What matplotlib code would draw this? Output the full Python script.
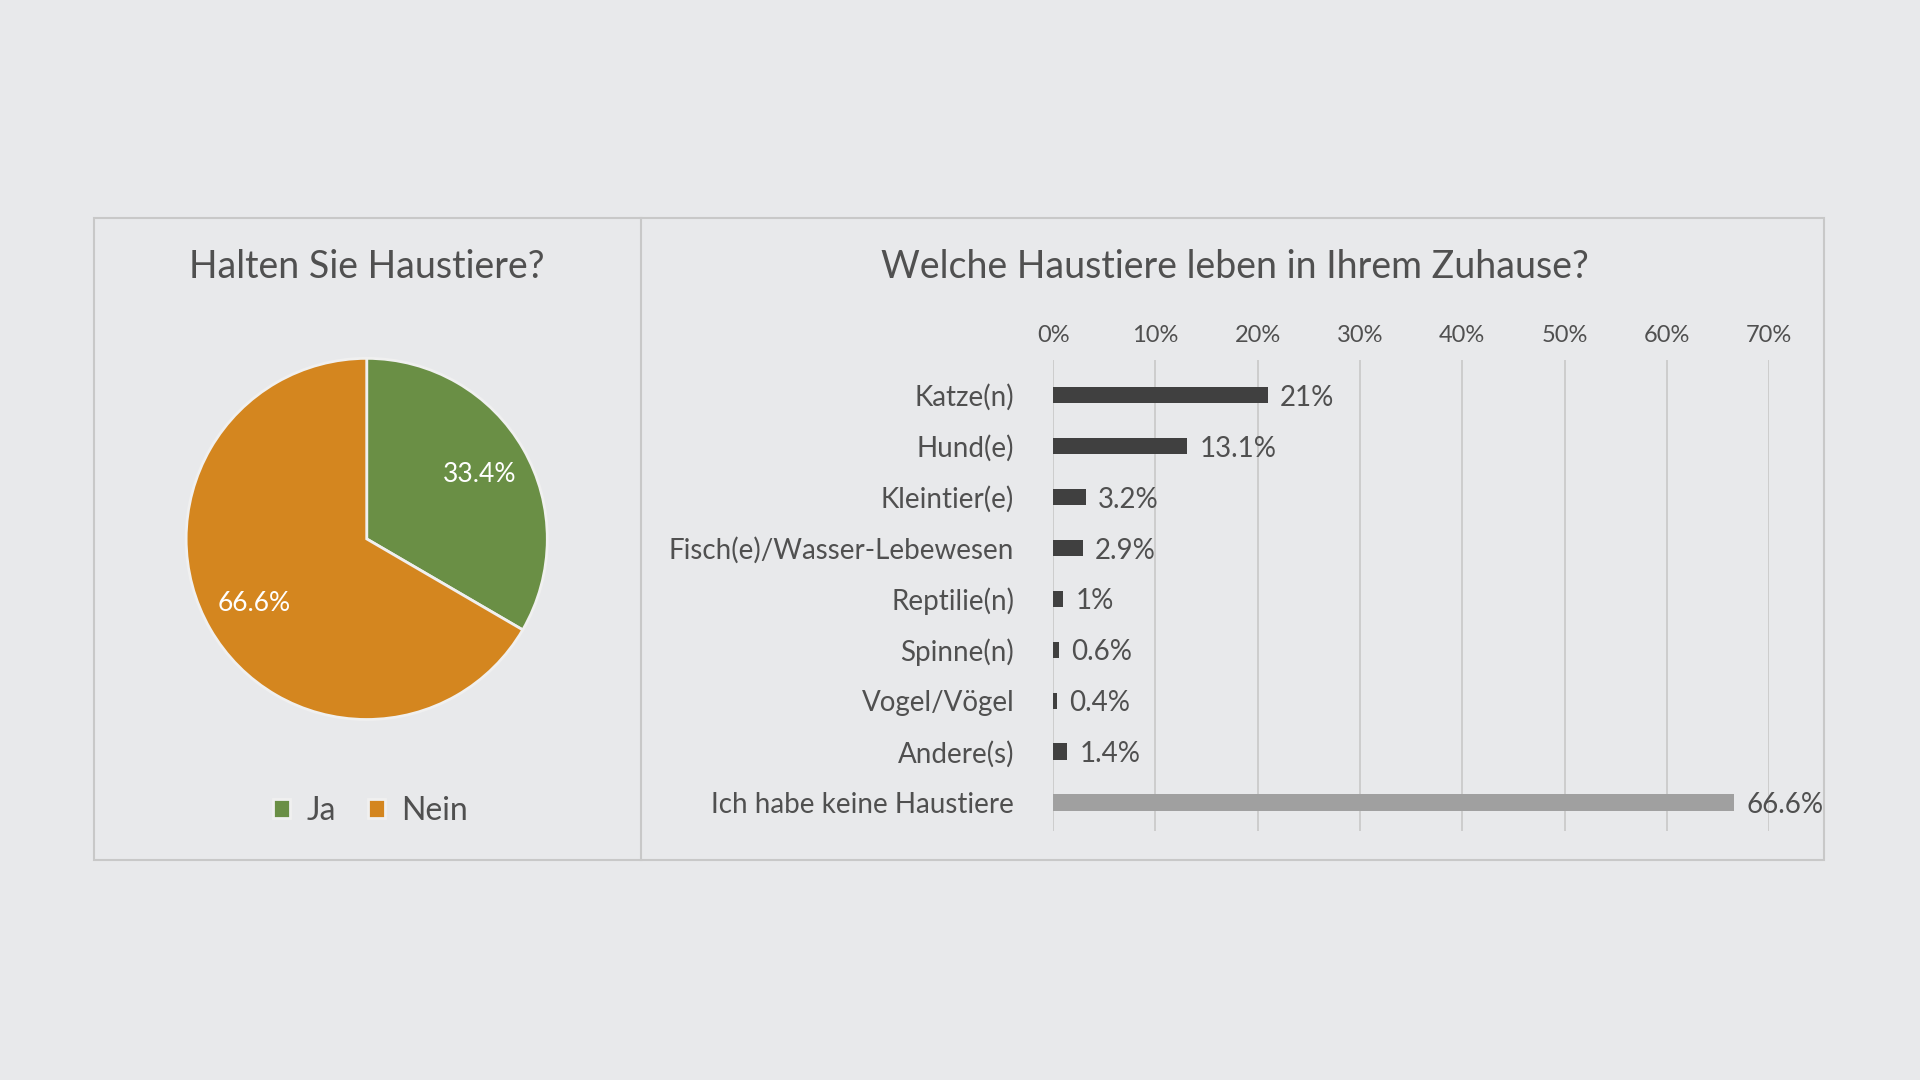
import matplotlib.pyplot as plt
from matplotlib.patches import Rectangle

plt.rcParams["font.family"] = "Lato"

# data
pie_labels = ["Ja", "Nein"]
pie_values = [33.4, 66.6]
pie_colors = ["#6a8f45", "#d4861f"]

categories = ["Katze(n)", "Hund(e)", "Kleintier(e)", "Fisch(e)/Wasser-Lebewesen",
              "Reptilie(n)", "Spinne(n)", "Vogel/Vögel", "Andere(s)",
              "Ich habe keine Haustiere"]
shares = [21, 13.1, 3.2, 2.9, 1, 0.6, 0.4, 1.4, 66.6]
share_labels = ["21%", "13.1%", "3.2%", "2.9%", "1%", "0.6%", "0.4%", "1.4%", "66.6%"]
bar_colors = ["#404040"] * 8 + ["#a0a0a0"]
x_ticks = [0, 10, 20, 30, 40, 50, 60, 70]

bg = "#e8e9eb"
txt = "#505050"
fig = plt.figure(figsize=(19.2, 10.8), dpi=100, facecolor=bg)

# panel frames
fig.patches.append(Rectangle((0.049, 0.204), 0.901, 0.594, transform=fig.transFigure,
                             fill=False, edgecolor="#c8c8c8", lw=1.5))
fig.lines.append(plt.Line2D([0.334, 0.334], [0.204, 0.798], transform=fig.transFigure,
                            color="#c8c8c8", lw=1.5))

# ---- pie ----
fig.text(0.191, 0.753, "Halten Sie Haustiere?", ha="center", va="center", fontsize=27, color=txt)
axp = fig.add_axes([0.067, 0.292, 0.248, 0.418])
wedges, _, autotexts = axp.pie(pie_values, colors=pie_colors, startangle=90, counterclock=False,
                               autopct="%.1f%%", pctdistance=0.72,
                               wedgeprops={"edgecolor": "#f0f0f0", "linewidth": 2},
                               textprops={"color": "white", "fontsize": 19})
axp.set_aspect("equal")
fig.legend(wedges, pie_labels, loc="center", bbox_to_anchor=(0.193, 0.249), ncol=2, frameon=False,
           fontsize=23, handlelength=0.55, handleheight=0.55, columnspacing=1.0,
           labelcolor=txt, handletextpad=0.5)

# ---- bars ----
fig.text(0.643, 0.753, "Welche Haustiere leben in Ihrem Zuhause?", ha="center", va="center",
         fontsize=27, color=txt)
axb = fig.add_axes([0.5485, 0.231, 0.373, 0.436])
axb.set_facecolor("none")
y = list(range(len(categories)))
axb.barh(y, shares, color=bar_colors, height=0.32)
for yi, v, lab in zip(y, shares, share_labels):
    axb.text(v + 1.2, yi + 0.05, lab, va="center", ha="left", fontsize=20, color=txt)
axb.set_ylim(len(categories) - 0.45, -0.7)
axb.set_xlim(0, 70)
axb.set_xticks(x_ticks)
axb.set_xticklabels([f"{t}%" for t in x_ticks], fontsize=17, color=txt)
axb.xaxis.tick_top()
axb.tick_params(axis="x", length=0, pad=10)
axb.set_yticks(y)
axb.set_yticklabels(categories, fontsize=20, color=txt)
axb.tick_params(axis="y", length=0, pad=28)
axb.grid(axis="x", color="#c8c8c8", lw=1.2)
axb.set_axisbelow(True)
for s in axb.spines.values():
    s.set_visible(False)

fig.savefig("out.png", dpi=100, facecolor=bg)
